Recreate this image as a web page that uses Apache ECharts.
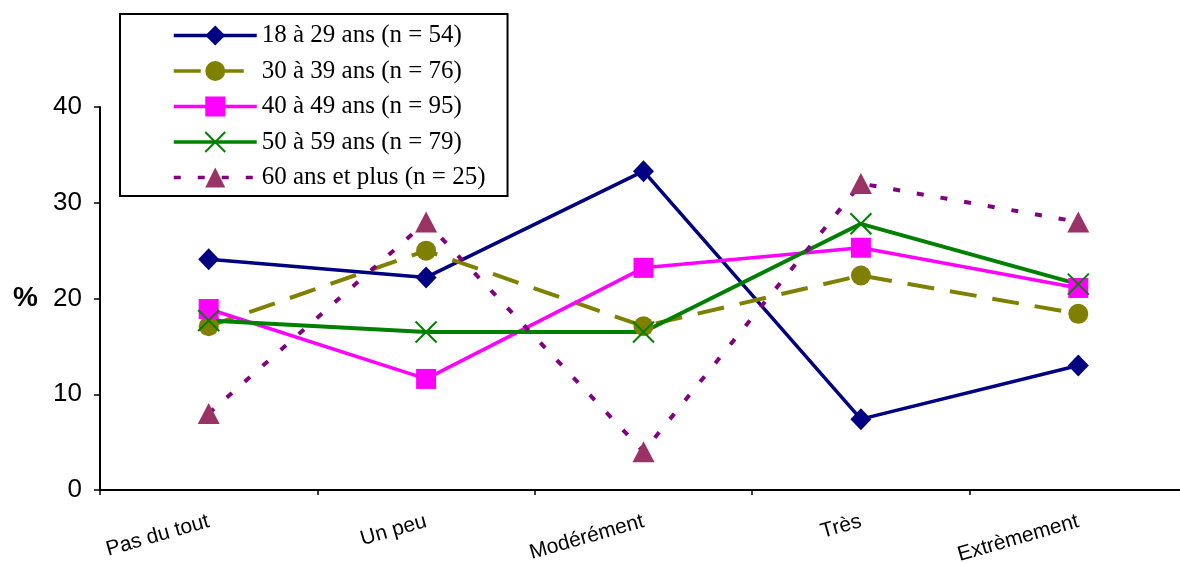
<!DOCTYPE html>
<html><head><meta charset="utf-8">
<script src="https://cdn.jsdelivr.net/npm/echarts@6/dist/echarts.min.js"></script>
<style>html,body{margin:0;padding:0;background:#fff}#c{width:1180px;height:563px}</style>
</head><body><div id="c"></div>
<script>
const categories = ['Pas du tout', 'Un peu', 'Modérément', 'Très', 'Extrèmement'];
const yTicks = [0, 10, 20, 30, 40];
const names = ['18 à 29 ans (n = 54)', '30 à 39 ans (n = 76)', '40 à 49 ans (n = 95)', '50 à 59 ans (n = 79)', '60 ans et plus (n = 25)'];
const s18_29 = [24.1, 22.2, 33.3, 7.4, 13.0];
const s30_39 = [17.1, 25.0, 17.1, 22.4, 18.4];
const s40_49 = [18.9, 11.6, 23.2, 25.3, 21.1];
const s50_59 = [17.7, 16.5, 16.5, 27.8, 21.5];
const s60 = [8, 28, 4, 32, 28];

const chart = echarts.init(document.getElementById('c'), null, {renderer: 'canvas'});
const xPath = 'path://M0,0 L10,10 M10,0 L0,10';
const sans = '"Liberation Sans", Arial, sans-serif';
chart.setOption({
  animation: false,
  backgroundColor: '#fff',
  grid: {left: 100, top: 107, width: 1087, height: 383, containLabel: false, outerBoundsMode: 'none'},
  legend: {
    orient: 'vertical', left: 120, top: 14,
    padding: [9, 22, 6, 52],
    itemWidth: 83, itemHeight: 25, itemGap: 10.5,
    borderColor: '#000', borderWidth: 2,
    lineStyle: {width: 3.5},
    textStyle: {fontFamily: '"Liberation Serif", "Times New Roman", serif', fontSize: 25, color: '#000'},
    data: names
  },
  xAxis: {
    type: 'category', data: categories, boundaryGap: true,
    axisLine: {lineStyle: {color: '#000', width: 2}},
    axisTick: {show: true, length: 5, lineStyle: {color: '#000', width: 1.5}},
    axisLabel: {rotate: 16, margin: 31, fontFamily: sans, fontSize: 21, color: '#000', interval: 0}
  },
  yAxis: {
    type: 'value', min: yTicks[0], max: yTicks[yTicks.length - 1], interval: 10,
    name: '%', nameLocation: 'middle', nameRotate: 0, nameGap: 62,
    nameTextStyle: {fontFamily: sans, fontSize: 28, fontWeight: 'bold', color: '#000'},
    splitLine: {show: false},
    axisLine: {show: true, lineStyle: {color: '#000', width: 2}},
    axisTick: {show: true, length: 6, lineStyle: {color: '#000', width: 1.5}},
    axisLabel: {margin: 18, fontFamily: sans, fontSize: 26, color: '#000'}
  },
  series: [
    {name: names[0], type: 'line', data: s18_29, symbol: 'diamond', symbolSize: [21, 22],
      lineStyle: {color: '#000080', width: 3.5}, itemStyle: {color: '#000080'}},
    {name: names[1], type: 'line', data: s30_39, symbol: 'circle', symbolSize: 20,
      lineStyle: {color: '#808000', width: 4, type: [27, 16]}, itemStyle: {color: '#808000'}},
    {name: names[2], type: 'line', data: s40_49, symbol: 'rect', symbolSize: 20,
      lineStyle: {color: '#FF00FF', width: 3.5}, itemStyle: {color: '#FF00FF'}},
    {name: names[3], type: 'line', data: s50_59, symbol: xPath, symbolSize: 21,
      lineStyle: {color: '#008000', width: 4}, itemStyle: {color: 'rgba(0,0,0,0)', borderColor: '#008000', borderWidth: 2}},
    {name: names[4], type: 'line', data: s60, symbol: 'triangle', symbolSize: [22, 21],
      lineStyle: {color: '#800080', width: 4, type: [7, 17]}, itemStyle: {color: '#993366'}}
  ]
});
</script></body></html>
